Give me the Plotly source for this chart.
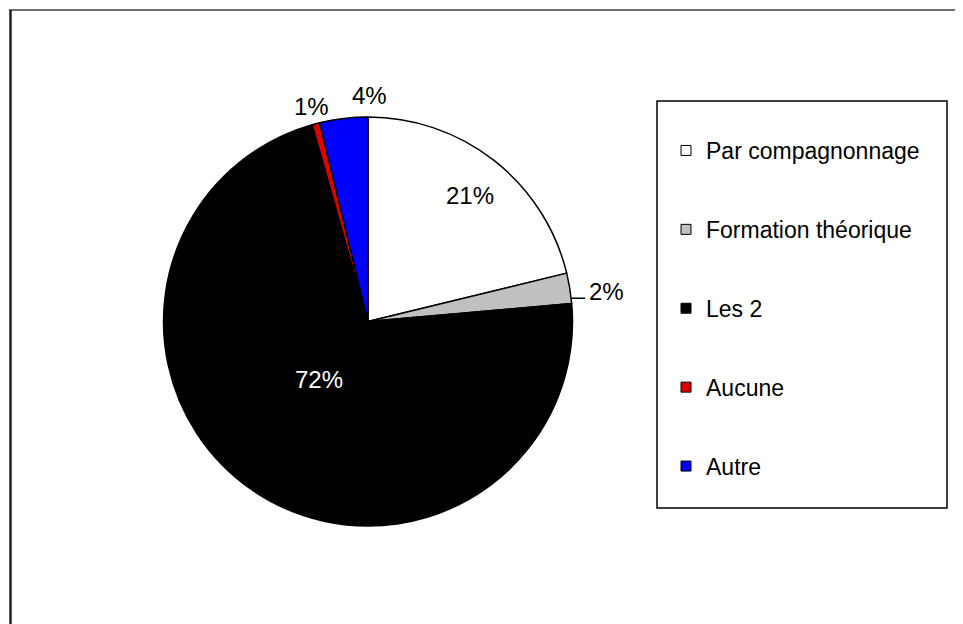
import math
import plotly.graph_objects as go

# ---------------- data ----------------
categories = ["Par compagnonnage", "Formation théorique", "Les 2", "Aucune", "Autre"]
values = [21.2, 2.4, 72.0, 0.6, 3.8]
pct_labels = ["21%", "2%", "72%", "1%", "4%"]
colors = ["#FFFFFF", "#C0C0C0", "#000000", "#E00000", "#0000FF"]

# ---------------- geometry / style ----------------
W, H = 963, 624
OFF = 8.0                                  # page body margin compensation
CX, CY, R = 368.0, 321.5, 204.5            # pie centre & radius in screen px
FONT = "Liberation Sans, Arial, sans-serif"

def px_to_paper(x, y):
    return (x - OFF) / W, 1 - (y - OFF) / H

dom_x = [(CX - R - OFF) / W, (CX + R - OFF) / W]
dom_y = [1 - (CY + R - OFF) / H, 1 - (CY - R - OFF) / H]

fig = go.Figure()
fig.add_trace(go.Pie(
    labels=categories, values=values, sort=False, direction="clockwise",
    rotation=0, textinfo="none", hoverinfo="label+percent",
    marker=dict(colors=colors, line=dict(color="#000000", width=1.5)),
    domain=dict(x=dom_x, y=dom_y), showlegend=False,
))

# legend entries (one group per category so spacing can be controlled)
for cat, col in zip(categories, colors):
    fig.add_trace(go.Scatter(
        x=[None], y=[None], mode="markers", name=cat, legendgroup=cat,
        marker=dict(symbol="square", size=10, color=col,
                    line=dict(color="#000000", width=1)),
        showlegend=True,
    ))

# ---------------- percentage labels ----------------
label_style = [
    dict(r=0.79, dx=2, dy=1.5, color="#000000", leader=False),
    dict(r=1.0, dx=37, dy=3, color="#000000", leader=True),
    dict(r=0.37, dx=-6, dy=-4, color="#FFFFFF", leader=False),
    dict(r=1.0, dx=-4, dy=-17, color="#000000", leader=False),
    dict(r=1.0, dx=26, dy=-23, color="#000000", leader=False),
]

total = sum(values)
annotations = []
shapes = []
cum = 0.0
for v, txt, st in zip(values, pct_labels, label_style):
    mid = (cum + v / 2) / total * 2 * math.pi
    cum += v
    rr = st["r"] * R
    x = CX + rr * math.sin(mid) + st["dx"]
    y = CY - rr * math.cos(mid) + st["dy"]
    px, py = px_to_paper(x, y)
    annotations.append(dict(
        x=px, y=py, xref="paper", yref="paper", text=txt, showarrow=False,
        xanchor="center", yanchor="middle",
        font=dict(family=FONT, size=24, color=st["color"]),
    ))
    if st["leader"]:
        yl = y + 7
        xs = CX + math.sqrt(R ** 2 - (yl - CY) ** 2)
        xe = xs + 14
        x0, y0 = px_to_paper(xs, yl)
        x1, y1 = px_to_paper(xe, yl)
        shapes.append(dict(type="line", xref="paper", yref="paper",
                           x0=x0, y0=y0, x1=x1, y1=y1,
                           line=dict(color="#000000", width=1.5)))

# legend box
lx0, ly0 = px_to_paper(657, 101)
lx1, ly1 = px_to_paper(947, 508)
shapes.append(dict(type="rect", xref="paper", yref="paper",
                   x0=lx0, y0=ly0, x1=lx1, y1=ly1,
                   line=dict(color="#000000", width=1.5), fillcolor="rgba(0,0,0,0)"))

# chart frame (top and left edges visible)
fx0, fy0 = px_to_paper(9, 10)
fx1, _ = px_to_paper(W + 20, 10)
shapes.append(dict(type="line", xref="paper", yref="paper",
                   x0=fx0, y0=fy0, x1=fx1, y1=fy0,
                   line=dict(color="#404040", width=1.5)))
lx, _ = px_to_paper(10.5, 0)
_, by = px_to_paper(0, H + 20)
shapes.append(dict(type="line", xref="paper", yref="paper",
                   x0=lx, y0=fy0, x1=lx, y1=by,
                   line=dict(color="#202020", width=2.5)))

lgx, lgy = px_to_paper(666, 129)
fig.update_layout(
    width=W, height=H,
    margin=dict(l=0, r=0, t=0, b=0),
    paper_bgcolor="#FFFFFF", plot_bgcolor="rgba(0,0,0,0)",
    font=dict(family=FONT, color="#000000"),
    xaxis=dict(visible=False), yaxis=dict(visible=False),
    showlegend=True,
    legend=dict(x=lgx, y=lgy, xanchor="left", yanchor="top",
                bgcolor="rgba(0,0,0,0)", borderwidth=0,
                font=dict(family=FONT, size=23, color="#000000"),
                tracegroupgap=46, itemclick=False, itemdoubleclick=False),
    annotations=annotations, shapes=shapes,
)

fig.write_html("out.html")
